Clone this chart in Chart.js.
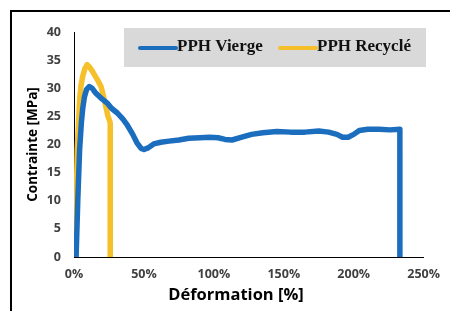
<!DOCTYPE html>
<html>
<head>
<meta charset="utf-8">
<script src="https://cdn.jsdelivr.net/npm/chart.js@4.4.1/dist/chart.umd.min.js"></script>
<style>
  body { margin: 0; background: #fff; }
  #wrap { position: relative; width: 450px; height: 311px; overflow: hidden; }
  #frame { position: absolute; left: 10px; top: 10px; right: -5px; bottom: -5px; border-left: 2px solid #000; border-top: 2px solid #000; }
  canvas { position: absolute; left: 0; top: 0; }
</style>
</head>
<body>
<div id="wrap">
  <div id="frame"></div>
  <canvas id="chart" width="450" height="311"></canvas>
</div>
<script>
// series names + colours (legend order)
const seriesNames = ['PPH Vierge', 'PPH Recyclé'];
const seriesColors = ['#1b6ebe', '#f6c02a'];

// PPH Vierge : déformation [%] / contrainte [MPa]
const viergeStrain = [1.5, 2.7, 4, 5.3, 6.3, 7.5, 9, 11, 13, 15, 17, 20, 24, 27, 31, 35, 38, 42, 45, 48, 50, 53, 57,
  62, 68, 75, 82, 90, 97, 103, 108, 113, 120, 127, 135, 145, 155, 165, 175, 182, 188, 192, 196, 200, 204, 210, 218, 226, 233, 233];
const viergeStress = [0, 10, 19, 24, 26.5, 28.5, 29.8, 30.3, 30, 29.3, 28.8, 28.1, 27.3, 26.4, 25.6, 24.5, 23.5, 21.8, 20.3, 19.3, 19.1, 19.4, 20.1,
  20.4, 20.6, 20.8, 21.1, 21.2, 21.3, 21.2, 20.9, 20.8, 21.3, 21.8, 22.1, 22.3, 22.2, 22.2, 22.4, 22.2, 21.8, 21.3, 21.3, 21.8, 22.5, 22.7, 22.7, 22.6, 22.7, 0];

// PPH Recyclé
const recycleStrain = [0.8, 1.6, 2.3, 4, 5, 6.3, 7.8, 9.4, 11, 13, 14.6, 17, 19.3, 21, 22.8, 24.3, 25.5, 25.9, 25.9];
const recycleStress = [0, 10, 19, 27.9, 30.5, 32.2, 33.5, 34.2, 33.8, 33.1, 32.4, 31.4, 30.3, 28.7, 26.7, 25, 24.2, 23.8, 0];

const xTicks = [0, 50, 100, 150, 200, 250];
const yTicks = [0, 5, 10, 15, 20, 25, 30, 35, 40];

const xTitle = 'Déformation [%]';
const yTitle = 'Contrainte [MPa]';

const toPoints = (xs, ys) => xs.map((x, i) => ({ x: x, y: ys[i] }));

// grey legend box drawn inside the plot, like the Excel one
const boxLegend = {
  id: 'boxLegend',
  afterDraw(chart) {
    const ctx = chart.ctx;
    const a = chart.chartArea;
    const left = a.left + 50, top = a.top - 4;
    ctx.save();
    ctx.fillStyle = '#d9d9d9';
    ctx.fillRect(left, top, 302, 39);
    ctx.font = 'bold 17px "Liberation Serif"';
    ctx.textBaseline = 'middle';
    const starts = [left + 16, left + 156];
    seriesNames.forEach((name, i) => {
      ctx.strokeStyle = seriesColors[i];
      ctx.lineWidth = 4;
      ctx.lineCap = 'round';
      ctx.beginPath();
      ctx.moveTo(starts[i], top + 20);
      ctx.lineTo(starts[i] + 36, top + 20);
      ctx.stroke();
      ctx.fillStyle = '#111';
      ctx.fillText(name, starts[i] + 37, top + 19);
    });
    ctx.restore();
  }
};

// x title sits a bit left of the plot centre in the original
const xAxisTitle = {
  id: 'xAxisTitle',
  afterDraw(chart) {
    const ctx = chart.ctx;
    const a = chart.chartArea;
    ctx.save();
    ctx.font = 'bold 16.5px "Open Sans"';
    ctx.fillStyle = '#000';
    ctx.textAlign = 'center';
    ctx.textBaseline = 'middle';
    ctx.fillText(xTitle, a.left + 162, a.bottom + 38);
    ctx.restore();
  }
};

const tickFont = { family: '"Open Sans"', size: 12.5, weight: 'bold' };

new Chart(document.getElementById('chart'), {
  type: 'scatter',
  data: {
    datasets: [
      {
        label: seriesNames[0],
        data: toPoints(viergeStrain, viergeStress),
        borderColor: seriesColors[0],
        backgroundColor: seriesColors[0],
        borderWidth: 5.5,
        showLine: true,
        pointRadius: 0,
        borderJoinStyle: 'round',
        borderCapStyle: 'round'
      },
      {
        label: seriesNames[1],
        data: toPoints(recycleStrain, recycleStress),
        borderColor: seriesColors[1],
        backgroundColor: seriesColors[1],
        borderWidth: 5.5,
        showLine: true,
        pointRadius: 0,
        borderJoinStyle: 'round',
        borderCapStyle: 'round'
      }
    ]
  },
  options: {
    responsive: false,
    animation: false,
    devicePixelRatio: 1,
    layout: { padding: { left: 0, right: 22, top: 32, bottom: 0 } },
    plugins: {
      legend: { display: false },
      tooltip: { enabled: false }
    },
    scales: {
      x: {
        type: 'linear',
        min: 0,
        max: 250,
        afterBuildTicks: s => { s.ticks = xTicks.map(v => ({ value: v })); },
        afterFit: s => { s.height = 54; },
        grid: { display: false, drawTicks: false },
        border: { display: true, color: '#000', width: 1 },
        ticks: { font: tickFont, color: '#404040', padding: 10, maxRotation: 0, callback: v => v + '%' }
      },
      y: {
        min: 0,
        max: 40,
        afterBuildTicks: s => { s.ticks = yTicks.map(v => ({ value: v })); },
        afterFit: s => { s.width = 74; },
        grid: { display: false, drawTicks: false },
        border: { display: true, color: '#000', width: 1 },
        ticks: { font: tickFont, color: '#404040', padding: 13 },
        title: {
          display: true,
          text: yTitle,
          color: '#000',
          font: { family: '"Open Sans"', size: 13.5, weight: 'bold' },
          padding: { top: 25, bottom: 0 }
        }
      }
    }
  },
  plugins: [boxLegend, xAxisTitle]
});
</script>
</body>
</html>
